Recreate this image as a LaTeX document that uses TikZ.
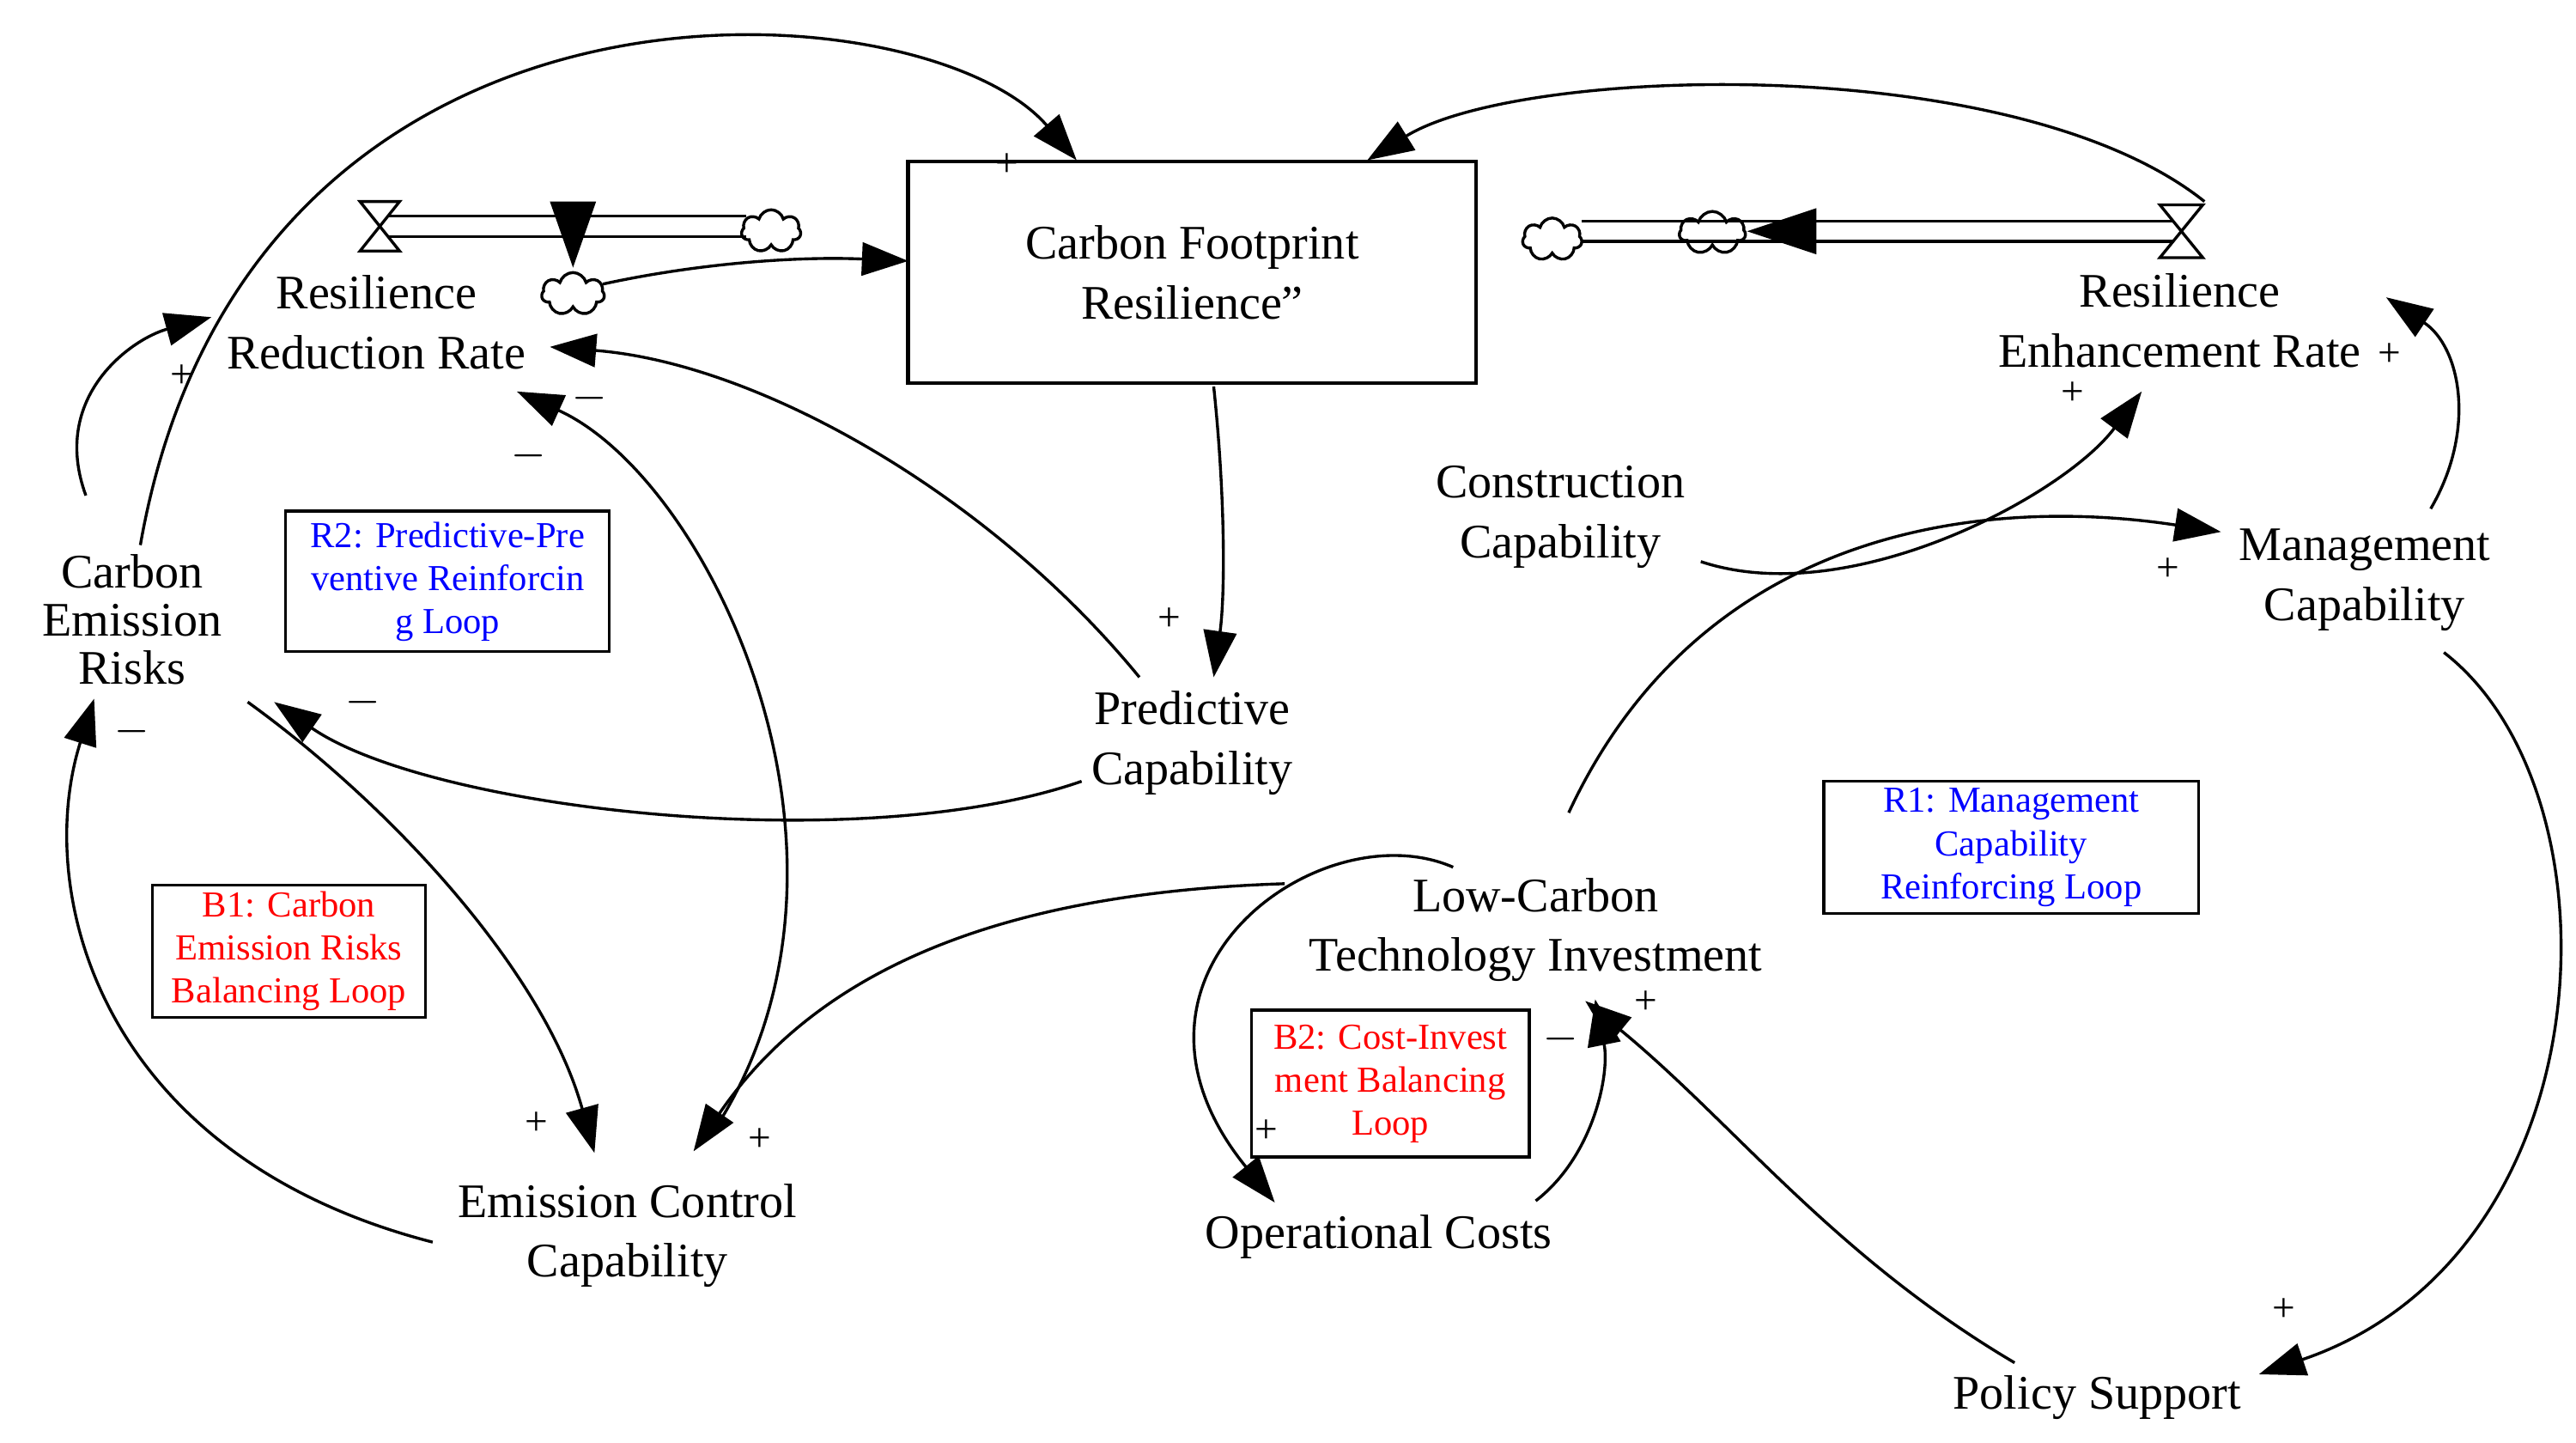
\documentclass[tikz,border=0pt]{standalone}
\usepackage{fontspec}
\setmainfont{Liberation Serif}
\usetikzlibrary{arrows.meta,shapes.symbols}
\begin{document}
\begin{tikzpicture}[x=0.01cm,y=-0.01cm,
  lbl/.style={font=\fontsize{8.3}{10.3}\selectfont,align=center,inner sep=0pt},
  sg/.style={font=\fontsize{7}{8}\selectfont,inner sep=0pt},
  loopb/.style={draw,line width=0.5pt,font=\fontsize{6.3}{7.4}\selectfont,align=center,inner sep=1pt},
  ar/.style={line width=0.5pt,-{Triangle[length=0.28cm,width=0.2cm]}},
  cl/.style={cloud,cloud puffs=7,draw,line width=0.5pt,minimum width=0.36cm,minimum height=0.26cm,inner sep=0pt,aspect=1.3}]
\useasboundingbox (0,0) rectangle (1560,873.6);
% stock
\node[draw,line width=0.6pt,minimum width=3.44cm,minimum height=1.34cm,lbl] (cfr) at (722,165) {Carbon Footprint\\Resilience”};
% left flow
\draw[line width=0.5pt,double distance=3pt] (230,137) -- (452,137);
\draw[line width=0.5pt,fill=white] (218,122) -- (242,122) -- (218,152) -- (242,152) -- cycle;
\node[cl] (c1) at (467,140) {};
\node[cl,minimum width=0.38cm] (v1) at (347,178) {};
\fill (333,122) -- (361,122) -- (347,162) -- cycle;
% right flow
\draw[line width=0.5pt,double distance=3pt] (958,140) -- (1322,140);
\draw[line width=0.5pt,fill=white] (1308,124) -- (1334,124) -- (1308,156) -- (1334,156) -- cycle;
\node[cl] (c2) at (940,145) {};
\node[cl,minimum width=0.4cm] (v2) at (1037,141) {};
\fill (1100,126) -- (1100,154) -- (1058,140) -- cycle;
% labels
\node[lbl] (rrr) at (228,195) {Resilience\\Reduction Rate};
\node[lbl] (rer) at (1320,194) {Resilience\\Enhancement Rate};
\node[sg] at (1447,215) {+};
\node[lbl,font=\fontsize{8.3}{8.3}\selectfont] (cer) at (80,375) {Carbon\\Emission\\Risks};
\node[lbl] (pc) at (722,450) {Predictive\\Capability};
\node[lbl] (cc) at (945,313) {Construction\\Capability};
\node[lbl] (mc) at (1432,351) {Management\\Capability};
\node[lbl] (lct) at (930,563) {Low-Carbon\\Technology Investment};
\node[lbl] (ecc) at (380,748) {Emission Control\\Capability};
\node[lbl] (oc) at (835,749) {Operational Costs};
\node[lbl] (ps) at (1270,846) {Policy Support};
% loop boxes
\node[loopb,text=blue,minimum width=1.96cm,minimum height=0.85cm] (r2) at (271,352) {R2: Predictive-Pre\\ventive Reinforcin\\g Loop};
\node[loopb,text=red,minimum width=1.65cm,minimum height=0.8cm] (b1) at (175,576) {B1: Carbon\\Emission Risks\\Balancing Loop};
\node[loopb,text=blue,minimum width=2.27cm,minimum height=0.8cm] (r1) at (1218,513) {R1: Management\\Capability\\Reinforcing Loop};
\node[loopb,text=red,minimum width=1.68cm,minimum height=0.89cm] (b2) at (842,656) {B2: Cost-Invest\\ment Balancing\\Loop};
% endpoint coordinates
\coordinate (a1s) at (85,330); \coordinate (a1e) at (652,97);
\coordinate (a2s) at (1335,122); \coordinate (a2e) at (828,97);
\coordinate (a3s) at (52,300); \coordinate (a3e) at (128,192);
\coordinate (a4s) at (690,410); \coordinate (a4e) at (333,210);
\coordinate (a5s) at (432,685); \coordinate (a5e) at (313,237);
\coordinate (a6s) at (735,234); \coordinate (a6e) at (735,410);
\coordinate (a7s) at (655,473); \coordinate (a7e) at (166,425);
\coordinate (a8s) at (150,425); \coordinate (a8e) at (360,698);
\coordinate (a9s) at (262,752); \coordinate (a9e) at (57,423);
\coordinate (a10s) at (1030,340); \coordinate (a10e) at (1297,237);
\coordinate (a11s) at (1472,308); \coordinate (a11e) at (1445,180);
\coordinate (a12s) at (950,492); \coordinate (a12e) at (1345,322);
\coordinate (a13s) at (1480,395); \coordinate (a13e) at (1368,832);
\coordinate (a14s) at (1220,825); \coordinate (a14e) at (960,606);
\coordinate (a15s) at (880,525); \coordinate (a15e) at (772,728);
\coordinate (a16s) at (930,727); \coordinate (a16e) at (966,605);
\coordinate (a17s) at (778,535); \coordinate (a17e) at (420,697);
\coordinate (a18s) at (365,172); \coordinate (a18e) at (550,158);
% connectors
\draw[ar] (a1s) .. controls (150,-40) and (560,-10) .. (a1e);
\draw[ar] (a2s) .. controls (1220,30) and (920,40) .. (a2e);
\draw[ar] (a3s) .. controls (30,240) and (80,205) .. (a3e);
\draw[ar] (a4s) .. controls (600,300) and (460,220) .. (a4e);
\draw[ar] (a5s) .. controls (540,520) and (430,290) .. (a5e);
\draw[ar] (a6s) .. controls (742,300) and (742,360) .. (a6e);
\draw[ar] (a7s) .. controls (520,520) and (260,490) .. (a7e);
\draw[ar] (a8s) .. controls (240,490) and (330,590) .. (a8e);
\draw[ar] (a9s) .. controls (60,700) and (20,540) .. (a9e);
\draw[ar] (a10s) .. controls (1120,370) and (1250,300) .. (a10e);
\draw[ar] (a11s) .. controls (1500,260) and (1490,210) .. (a11e);
\draw[ar] (a12s) .. controls (1030,320) and (1200,300) .. (a12e);
\draw[ar] (a13s) .. controls (1590,480) and (1580,760) .. (a13e);
\draw[ar] (a14s) .. controls (1110,760) and (1050,680) .. (a14e);
\draw[ar] (a15s) .. controls (800,490) and (660,590) .. (a15e);
\draw[ar] (a16s) .. controls (965,700) and (975,650) .. (a16e);
\draw[ar] (a17s) .. controls (620,540) and (500,580) .. (a17e);
\draw[ar] (a18s) .. controls (420,160) and (480,155) .. (a18e);
% signs
\node[sg] at (610,100) {+};
\node[sg] at (110,228) {+};
\node[sg] at (357,241) {$-$};
\node[sg] at (320,276) {$-$};
\node[sg] at (708,375) {+};
\node[sg] at (220,425) {$-$};
\node[sg] at (80,443) {$-$};
\node[sg] at (325,680) {+};
\node[sg] at (460,690) {+};
\node[sg] at (1255,238) {+};
\node[sg] at (1313,345) {+};
\node[sg] at (1383,793) {+};
\node[sg] at (997,607) {+};
\node[sg] at (767,685) {+};
\node[sg] at (945,629) {$-$};
\end{tikzpicture}
\end{document}
